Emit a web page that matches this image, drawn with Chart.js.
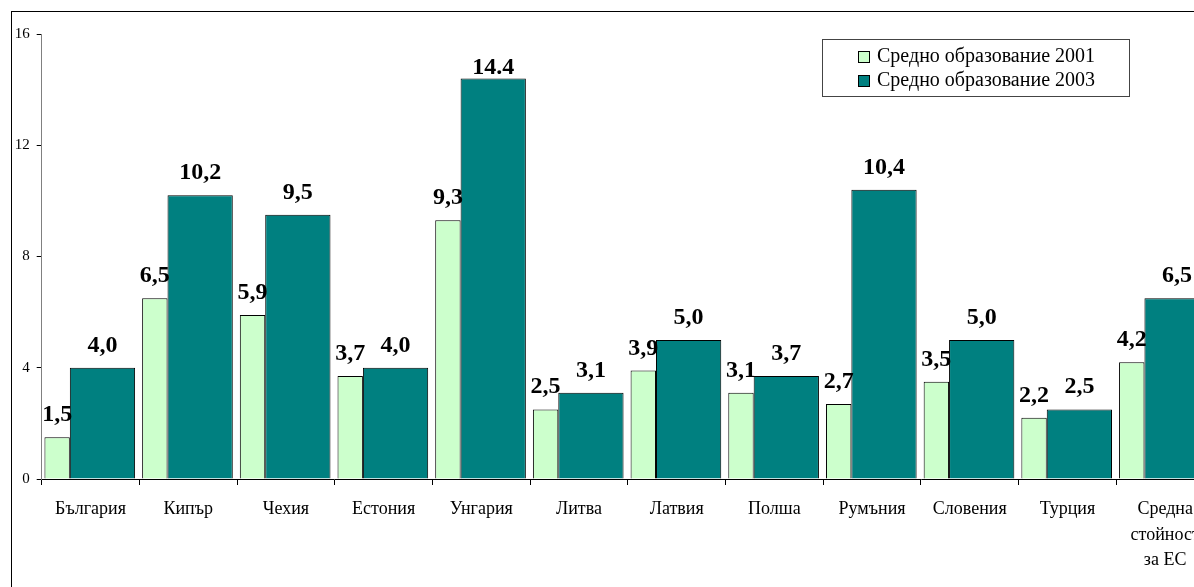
<!DOCTYPE html>
<html>
<head>
<meta charset="utf-8">
<script src="https://cdn.jsdelivr.net/npm/chart.js@4/dist/chart.umd.min.js"></script>
<style>
  body { margin: 0; background: #fff; overflow: hidden; width: 1194px; height: 587px; }
  #frame { position: absolute; left: 11px; top: 11px; width: 1230px; height: 600px; border: 1px solid #000; }
  #legend { position: absolute; left: 822px; top: 39px; width: 306px; height: 53px; border: 1px solid #444;
            font-family: 'Liberation Serif', 'Times New Roman', serif; font-size: 20px; padding-top: 3px; box-sizing: content-box; }
  #legend div { height: 24px; line-height: 24px; padding-left: 35px; white-space: nowrap; }
  #legend span { display: inline-block; width: 10px; height: 10px; border: 1px solid #000; margin-right: 7px; vertical-align: -1px; }
</style>
</head>
<body>
<div id="frame"><canvas id="myChart" width="1230" height="600"></canvas></div>
<div id="legend"></div>
<script>
// данни от графиката
var categories = ['България', 'Кипър', 'Чехия', 'Естония', 'Унгария', 'Литва', 'Латвия', 'Полша', 'Румъния', 'Словения', 'Турция', ['Средна', 'стойност', 'за ЕС']];
var series2001 = [1.5, 6.5, 5.9, 3.7, 9.3, 2.5, 3.9, 3.1, 2.7, 3.5, 2.2, 4.2];
var series2003 = [4.0, 10.2, 9.5, 4.0, 14.4, 3.1, 5.0, 3.7, 10.4, 5.0, 2.5, 6.5];
var labels2001 = ['1,5', '6,5', '5,9', '3,7', '9,3', '2,5', '3,9', '3,1', '2,7', '3,5', '2,2', '4,2'];
var labels2003 = ['4,0', '10,2', '9,5', '4,0', '14.4', '3,1', '5,0', '3,7', '10,4', '5,0', '2,5', '6,5'];
var yTicks = [0, 4, 8, 12, 16];
var seriesNames = ['Средно образование 2001', 'Средно образование 2003'];
var colors = ['#ccffcc', '#008080'];

var serif = "'Liberation Serif', 'Times New Roman', serif";

function toPoints(arr) {
    return arr.map(function (v, i) { return { x: i, y: v }; });
}

function intTicks(scale) {
    scale.ticks = categories.map(function (c, i) { return { value: i }; });
}

// етикети над стълбовете
const valueLabels = {
    id: 'valueLabels',
    afterDatasetsDraw(chart) {
        const ctx = chart.ctx;
        const texts = [labels2001, labels2003];
        ctx.save();
        ctx.font = 'bold 24px ' + serif;
        ctx.fillStyle = '#000';
        ctx.textAlign = 'center';
        ctx.textBaseline = 'alphabetic';
        chart.data.datasets.forEach(function (ds, d) {
            chart.getDatasetMeta(d).data.forEach(function (bar, i) {
                var y = Math.max(bar.y - 16, chart.chartArea.top + 40);
                ctx.fillText(texts[d][i], bar.x, y);
            });
        });
        ctx.restore();
    }
};

const ctx = document.getElementById('myChart').getContext('2d');
const myChart = new Chart(ctx, {
    type: 'bar',
    data: {
        datasets: [{
            label: seriesNames[0],
            data: toPoints(series2001),
            backgroundColor: colors[0],
            borderColor: '#000',
            borderWidth: 1,
            xAxisID: 'xb',
            categoryPercentage: 0.928,
            barPercentage: 0.56
        }, {
            label: seriesNames[1],
            data: toPoints(series2003),
            backgroundColor: colors[1],
            borderColor: '#000',
            borderWidth: 1,
            xAxisID: 'xb',
            categoryPercentage: 0.928,
            barPercentage: 1.44
        }]
    },
    options: {
        responsive: false,
        animation: false,
        layout: { padding: { top: 22, right: 28, left: 0, bottom: 0 } },
        plugins: { legend: { display: false }, tooltip: { enabled: false } },
        scales: {
            xb: {
                type: 'linear',
                display: false,
                offset: false,
                min: -0.39,
                max: 11.61,
                afterBuildTicks: intTicks
            },
            x: {
                type: 'linear',
                position: 'bottom',
                offset: false,
                min: -0.5,
                max: 11.5,
                afterBuildTicks: intTicks,
                afterFit: function (s) { s.height = 133; },
                grid: { offset: true, drawOnChartArea: false, tickLength: 6, color: '#000' },
                border: { color: '#000' },
                ticks: {
                    autoSkip: false,
                    maxRotation: 0,
                    padding: 12,
                    color: '#000',
                    font: { family: serif, size: 18, lineHeight: 1.4 },
                    callback: function (v) { return categories[v]; }
                }
            },
            y: {
                min: 0,
                max: 16,
                afterBuildTicks: function (s) { s.ticks = yTicks.map(function (v) { return { value: v }; }); },
                afterFit: function (s) { s.width = 29.7; },
                grid: { drawOnChartArea: false, tickLength: 5, color: '#000' },
                border: { color: '#808080' },
                ticks: { padding: 7, color: '#000', font: { family: serif, size: 15 } }
            }
        }
    },
    plugins: [valueLabels]
});

// легенда
document.getElementById('legend').innerHTML = seriesNames.map(function (n, i) {
    return '<div><span style="background:' + colors[i] + '"></span>' + n + '</div>';
}).join('');
</script>
</body>
</html>
